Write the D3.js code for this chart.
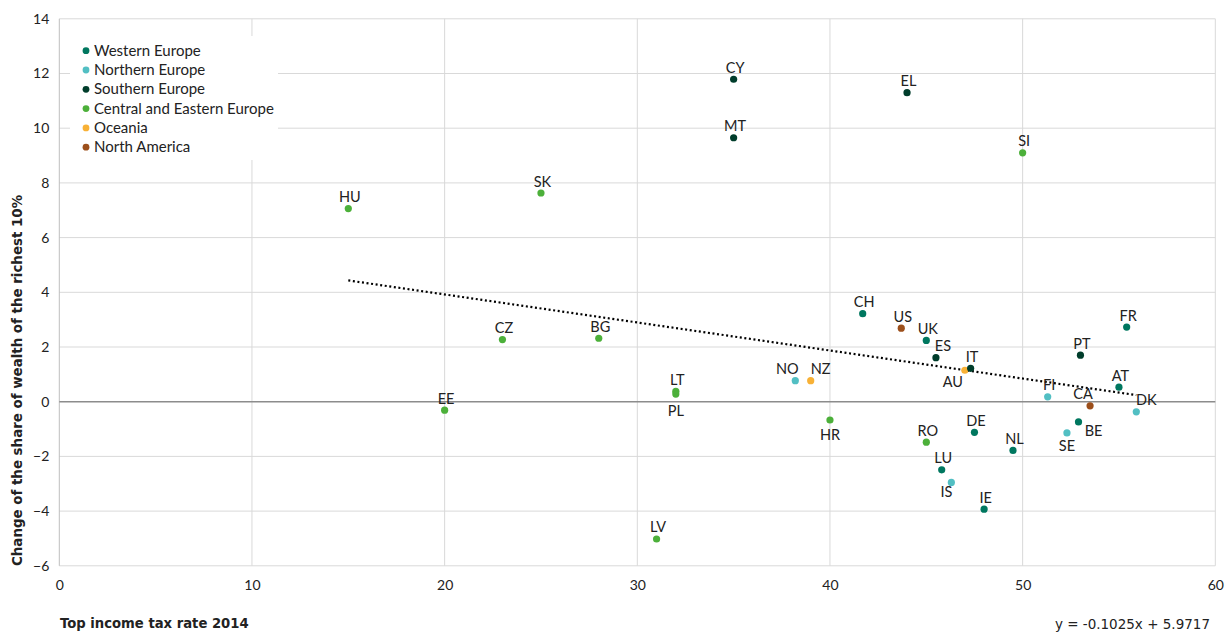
<!DOCTYPE html>
<html>
<head>
<meta charset="utf-8">
<script src="https://cdn.jsdelivr.net/npm/d3@7"></script>
<style>
  html, body { margin: 0; padding: 0; background: #ffffff; }
  svg { display: block; }
  text { font-family: Lato, "Open Sans", "DejaVu Sans", sans-serif; fill: #222; }
</style>
</head>
<body>
<div id="chart"></div>
<script>
// ---------- DATA ----------
const countries = ["HU","SK","CY","MT","EL","SI","CZ","BG","EE","LV","LT","PL","NO","NZ","HR","CH","US","UK","ES","AU","IT","RO","DE","LU","IS","IE","NL","FI","PT","FR","AT","CA","BE","SE","DK"];
const taxRate2014 = [15,25,35,35,44,50,23,28,20,31,32,32,38.2,39,40,41.7,43.7,45,45.5,47,47.3,45,47.5,45.8,46.3,48,49.5,51.3,53,55.4,55,53.5,52.9,52.3,55.9];
const wealthShareChange = [7.06,7.63,11.79,9.65,11.3,9.1,2.27,2.32,-0.31,-5.02,0.38,0.28,0.77,0.77,-0.67,3.22,2.69,2.24,1.61,1.15,1.22,-1.48,-1.12,-2.49,-2.95,-3.93,-1.78,0.18,1.7,2.73,0.53,-0.15,-0.74,-1.14,-0.37];
const countryRegion = ["CEE","CEE","S","S","S","CEE","CEE","CEE","CEE","CEE","CEE","CEE","N","OC","CEE","W","NA","W","S","OC","S","CEE","W","W","N","W","W","N","S","W","W","NA","W","N","N"];

const regionKeys = ["W","N","S","CEE","OC","NA"];
const regionNames = ["Western Europe","Northern Europe","Southern Europe","Central and Eastern Europe","Oceania","North America"];
const regionColors = ["#00775f","#52bfc3","#003d2b","#4cb03a","#f8b136","#9c4f1b"];

const xTicks = [0,10,20,30,40,50,60];
const yTicks = [-6,-4,-2,0,2,4,6,8,10,12,14];

const trendSlope = -0.1025;
const trendIntercept = 5.9717;

const xTitle = "Top income tax rate 2014";
const yTitle = "Change of the share of  wealth of the richest 10%";
const equationText = "y = -0.1025x + 5.9717";

// label placement (layout, not data)
const labelOffset = {
  PL: [0, 22], HR: [0, 20], AU: [-12, 17], IS: [-5, 15], SE: [0, 18],
  BE: [15, 14], DK: [10, -7], CA: [-7, -7], NO: [-8, -6.5], NZ: [10, -6.5],
  ES: [7, -6.5]
};

// ---------- CHART ----------
const W = 1229, H = 633;
const svg = d3.select("#chart").append("svg").attr("width", W).attr("height", H);

const x = d3.scaleLinear().domain([0, 60]).range([59.3, 1215.3]);
const y = d3.scaleLinear().domain([-6, 14]).range([565.8, 18.8]);

const colorOf = d3.scaleOrdinal().domain(regionKeys).range(regionColors);

// gridlines
const grid = svg.append("g");
grid.selectAll("line.h").data(yTicks.filter(v => v !== 0)).join("line")
  .attr("x1", x(0)).attr("x2", x(60))
  .attr("y1", d => y(d)).attr("y2", d => y(d))
  .attr("stroke", "#d9d9d9").attr("stroke-width", 1);
grid.selectAll("line.v").data(xTicks.filter(v => v !== 0)).join("line")
  .attr("y1", y(-6)).attr("y2", y(14))
  .attr("x1", d => x(d)).attr("x2", d => x(d))
  .attr("stroke", "#d9d9d9").attr("stroke-width", 1);
// left axis line
svg.append("line").attr("x1", x(0)).attr("x2", x(0)).attr("y1", y(-6)).attr("y2", y(14))
  .attr("stroke", "#bfbfbf").attr("stroke-width", 1);
// zero line
svg.append("line").attr("x1", x(0)).attr("x2", x(60)).attr("y1", y(0)).attr("y2", y(0))
  .attr("stroke", "#8c8c8c").attr("stroke-width", 1.5);

// y-axis ticks
const yAxis = d3.axisLeft(y).tickValues(yTicks).tickSize(0).tickPadding(10).tickFormat(d3.format("d"));
const gy = svg.append("g").attr("transform", `translate(${x(0)},0)`).call(yAxis);
gy.select(".domain").remove();
gy.selectAll("text").style("font-size", "14px").style("font-family", "Lato, sans-serif").attr("fill", "#333");

// x-axis ticks
const xAxis = d3.axisBottom(x).tickValues(xTicks).tickSize(0).tickPadding(14).tickFormat(d3.format("d"));
const gx = svg.append("g").attr("transform", `translate(0,${y(-6)})`).call(xAxis);
gx.select(".domain").remove();
gx.selectAll("text").style("font-size", "14px").style("font-family", "Lato, sans-serif").attr("fill", "#333");

// trend line
const xs = d3.extent(taxRate2014);
svg.append("line")
  .attr("x1", x(xs[0])).attr("y1", y(trendSlope * xs[0] + trendIntercept))
  .attr("x2", x(xs[1])).attr("y2", y(trendSlope * xs[1] + trendIntercept))
  .attr("stroke", "#000").attr("stroke-width", 2.2).attr("stroke-dasharray", "2,2.6");

// points
const pts = countries.map((c, i) => ({ c, xv: taxRate2014[i], yv: wealthShareChange[i], r: countryRegion[i] }));
svg.append("g").selectAll("circle").data(pts).join("circle")
  .attr("cx", d => x(d.xv)).attr("cy", d => y(d.yv)).attr("r", 3.6)
  .attr("fill", d => colorOf(d.r));

// labels
svg.append("g").selectAll("text").data(pts).join("text")
  .attr("x", d => x(d.xv) + (labelOffset[d.c] ? labelOffset[d.c][0] : 1.5))
  .attr("y", d => y(d.yv) + (labelOffset[d.c] ? labelOffset[d.c][1] : -6.5))
  .attr("text-anchor", "middle")
  .style("font-size", "14.5px")
  .attr("fill", "#262626")
  .text(d => d.c);

// legend
const lg = svg.append("g");
lg.append("rect").attr("x", 70).attr("y", 36).attr("width", 208).attr("height", 124).attr("fill", "#fff");
const li = lg.selectAll("g.item").data(regionKeys).join("g")
  .attr("transform", (d, i) => `translate(86,${50.7 + i * 19.3})`);
li.append("circle").attr("r", 3.4).attr("fill", d => colorOf(d));
li.append("text").attr("x", 8).attr("y", 5).style("font-size", "15px").attr("fill", "#262626")
  .text((d, i) => regionNames[i]);

// axis titles
svg.append("text").attr("x", 60).attr("y", 628)
  .style("font-size", "13.2px").style("font-weight", "bold").style("font-family", "'DejaVu Sans', sans-serif").attr("fill", "#111")
  .text(xTitle);
svg.append("text").attr("transform", "translate(22,566) rotate(-90)")
  .style("font-size", "13.4px").style("font-weight", "bold").style("font-family", "'DejaVu Sans', sans-serif").attr("fill", "#111")
  .text(yTitle);
svg.append("text").attr("x", 1210).attr("y", 629).attr("text-anchor", "end")
  .style("font-size", "13.5px").style("font-family", "'DejaVu Sans', sans-serif").attr("fill", "#222")
  .text(equationText);
</script>
</body>
</html>
